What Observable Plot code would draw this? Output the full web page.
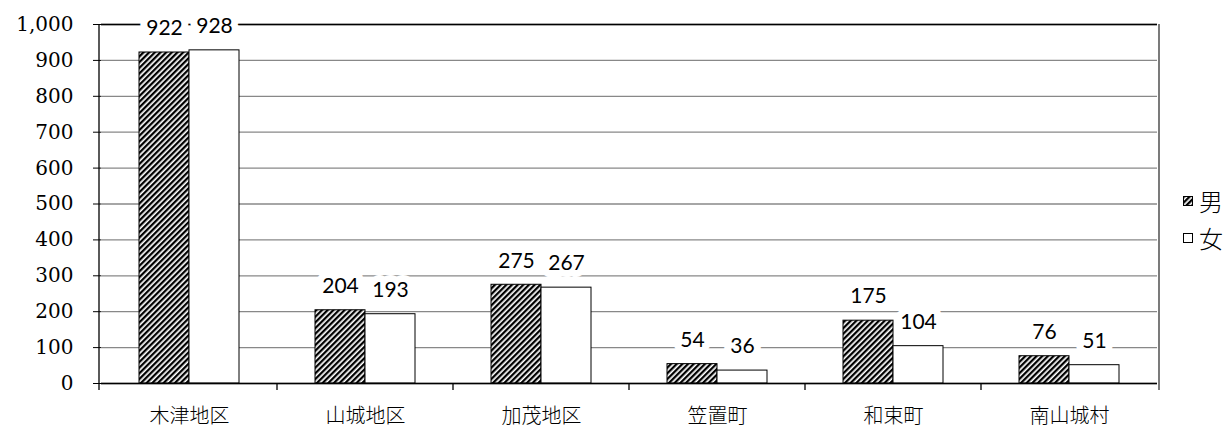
<!DOCTYPE html>
<html>
<head>
<meta charset="utf-8">
<script src="https://cdn.jsdelivr.net/npm/d3@7"></script>
<script src="https://cdn.jsdelivr.net/npm/@observablehq/plot@0.6"></script>
<style>
  body { margin: 0; background: white; }
  #wrap { position: relative; width: 1231px; height: 429px; }
  #legend { position: absolute; left: 1183px; top: 182px; font-family: "Noto Sans CJK JP", sans-serif; font-size: 24px; line-height: 37px; color: #000; font-weight: 300; }
  #legend div { display: flex; align-items: center; }
  #legend svg { margin-right: 6px; }
</style>
</head>
<body>
<svg width="0" height="0" style="position:absolute">
  <defs>
    <pattern id="hatch" patternUnits="userSpaceOnUse" width="4" height="4" patternTransform="rotate(45)">
      <rect width="4" height="4" fill="white"></rect>
      <rect width="2.3" height="4" fill="black"></rect>
    </pattern>
  </defs>
</svg>
<div id="wrap"></div>
<script>
const regions = ["木津地区", "山城地区", "加茂地区", "笠置町", "和束町", "南山城村"];
const series = ["男", "女"];
const male = [922, 204, 275, 54, 175, 76];
const female = [928, 193, 267, 36, 104, 51];
const yTicks = [0, 100, 200, 300, 400, 500, 600, 700, 800, 900, 1000];

const data = [];
regions.forEach((r, i) => {
  data.push({region: r, sex: series[0], value: male[i]});
  data.push({region: r, sex: series[1], value: female[i]});
});

const W = 1231, H = 429, ML = 99, MR = 72, MT = 24, MB = 46;

const plot = Plot.plot({
  width: W, height: H,
  marginLeft: ML, marginRight: MR, marginTop: MT, marginBottom: MB,
  style: {background: "white", color: "black"},
  fx: {domain: regions, padding: 0, label: null},
  x: {domain: series, paddingInner: 0, paddingOuter: 0.75, axis: null},
  y: {domain: [0, 1000], label: null},
  color: {domain: series, range: ["url(#hatch)", "white"]},
  marks: [
    Plot.gridY(yTicks, {stroke: "#888", strokeOpacity: 1, strokeWidth: 1.3}),
    Plot.ruleY([1000], {stroke: "black", strokeWidth: 1.3}),
    Plot.barY(data, {fx: "region", x: "sex", y: "value", fill: "sex", stroke: "black", strokeWidth: 1}),
    Plot.ruleY([0], {stroke: "black", strokeWidth: 1.3}),
    Plot.text(data, {fx: "region", x: "sex", y: "value", text: d => String(d.value), dy: -24,
      fontSize: 21, fontFamily: "Lato, 'Open Sans', sans-serif", fill: "black",
      stroke: "white", strokeWidth: 14}),
    Plot.axisY(yTicks, {tickSize: 8, tickPadding: 20, tickFormat: d3.format(","), fontSize: 20,
      fontFamily: "'DejaVu Serif', serif", label: null}),
    Plot.axisFx({anchor: "bottom", tickSize: 0, tickPadding: 25, fontSize: 20,
      fontFamily: "'Noto Sans CJK JP', sans-serif", fontWeight: 300, label: null})
  ]
});

document.getElementById("wrap").appendChild(plot);

// frame lines and boundary ticks computed from the plot's own scales
const fx = plot.scale("fx");
const y = plot.scale("y");
const y0 = y.apply(0), yTop = y.apply(1000);
const left = ML, right = W - MR;
const g = d3.select(plot).append("g").attr("stroke-width", 1.3);
g.append("line").attr("x1", left).attr("x2", left).attr("y1", yTop).attr("y2", y0 + 7).attr("stroke", "black");
g.append("line").attr("x1", right).attr("x2", right).attr("y1", yTop).attr("y2", y0 + 7).attr("stroke", "#333");
regions.slice(1).forEach(r => {
  const bx = fx.apply(r);
  g.append("line").attr("x1", bx).attr("x2", bx).attr("y1", y0).attr("y2", y0 + 7).attr("stroke", "black");
});

// legend
const legend = document.createElement("div");
legend.id = "legend";
const fills = ["url(#hatch)", "white"];
series.forEach((s, i) => {
  const row = document.createElement("div");
  row.innerHTML = `<svg width="10" height="10"><rect x="0.5" y="0.5" width="9" height="9" fill="${fills[i]}" stroke="black" stroke-width="1"></rect></svg><span>${s}</span>`;
  legend.appendChild(row);
});
document.getElementById("wrap").appendChild(legend);
</script>
</body>
</html>
